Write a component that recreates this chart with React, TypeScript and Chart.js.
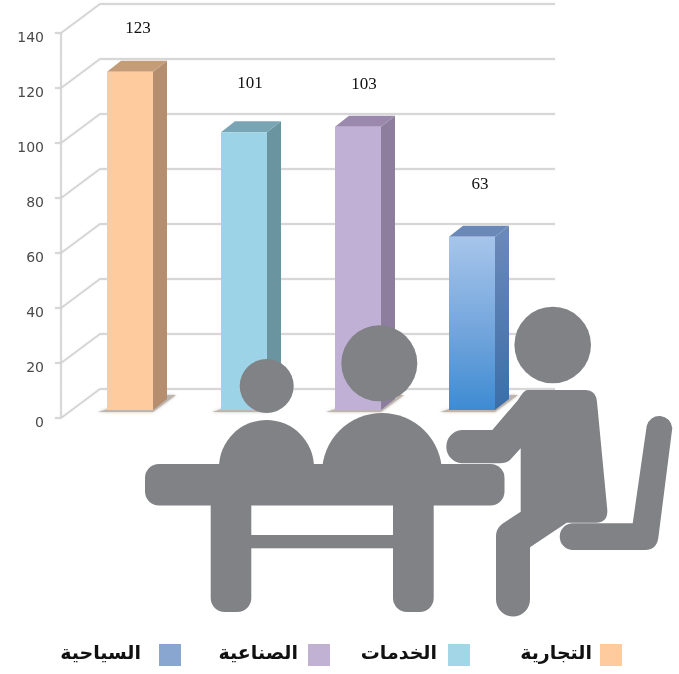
import React, { useEffect, useRef } from "react";
import { Chart, registerables } from "chart.js";

Chart.register(...registerables);

const categories = ["التجارية", "الخدمات", "الصناعية", "السياحية"];
const values = [123, 101, 103, 63];
const yTicksMax = 140;
const yTickStep = 20;

const frontColors = ["#FDCB9E", "#9DD3E6", "#C0B0D5", "#A7C5EB"];
const sideColors = ["#B48E6E", "#6A949F", "#8C7E9C", "#5F84B6"];
const capColors = ["#C49C78", "#78A4B4", "#9A89AC", "#6A88B8"];
const swatchColors = ["#FDCB9E", "#A3D6E7", "#C1B1D3", "#88A6CF"];

const labelLift = [43, 49, 42, 52];
const labelShift = [8, 6, 6, 8];
const swatchLeft = [600, 448, 308, 159];
const legendGap = [8, 11, 10, 18];
const DEPTH_X = 14;
const DEPTH_Y = 11;
const WALL_X0 = 61;
const WALL_X1 = 100;
const WALL_X2 = 555;
const FRONT_DY = 8;
const BACK_DY = -21;

const poly = (ctx: any, pts: number[][]) => {
  ctx.beginPath();
  pts.forEach(([x, y], i) => (i ? ctx.lineTo(x, y) : ctx.moveTo(x, y)));
  ctx.closePath();
};

const backdrop = {
  id: "backdrop",
  beforeDatasetsDraw(chart: any) {
    const { ctx, scales } = chart;
    const y = scales.y;
    ctx.save();
    ctx.strokeStyle = "#D2D2D2";
    ctx.lineWidth = 1.4;
    ctx.shadowColor = "rgba(190,190,190,0.6)";
    ctx.shadowBlur = 1.5;
    ctx.beginPath();
    ctx.moveTo(WALL_X0, y.getPixelForValue(yTicksMax) + FRONT_DY);
    ctx.lineTo(WALL_X0, y.getPixelForValue(0) + FRONT_DY);
    for (let v = 0; v <= yTicksMax; v += yTickStep) {
      const p = y.getPixelForValue(v);
      ctx.moveTo(WALL_X0 - 6, p + FRONT_DY);
      ctx.lineTo(WALL_X0, p + FRONT_DY);
      ctx.lineTo(WALL_X1, p + BACK_DY);
      ctx.lineTo(WALL_X2, p + BACK_DY);
    }
    ctx.stroke();
    ctx.restore();

    const bars = chart.getDatasetMeta(0).data;
    bars.forEach((bar: any, i: number) => {
      const l = bar.x - bar.width / 2;
      const r = bar.x + bar.width / 2;
      const t = bar.y;
      const b = bar.base;
      ctx.save();
      ctx.shadowColor = "rgba(170,160,150,0.7)";
      ctx.shadowBlur = 3;
      ctx.fillStyle = "#BDB5AE";
      poly(ctx, [
        [l - 9, b + 2],
        [r, b + 2],
        [r + 23, b - 15],
        [r, b - 15],
      ]);
      ctx.fill();
      ctx.restore();

      let side: any = sideColors[i];
      if (i === 3) {
        side = ctx.createLinearGradient(0, t, 0, b);
        side.addColorStop(0, "#6A88B8");
        side.addColorStop(1, "#3B6EA8");
      }
      ctx.fillStyle = side;
      poly(ctx, [
        [r, t],
        [r + DEPTH_X, t - DEPTH_Y],
        [r + DEPTH_X, b - DEPTH_Y],
        [r, b],
      ]);
      ctx.fill();
      ctx.fillStyle = capColors[i];
      poly(ctx, [
        [l, t],
        [l + DEPTH_X, t - DEPTH_Y],
        [r + DEPTH_X, t - DEPTH_Y],
        [r, t],
      ]);
      ctx.fill();
    });
  },
};

const annotations = {
  id: "annotations",
  afterDraw(chart: any) {
    const { ctx } = chart;
    const bars = chart.getDatasetMeta(0).data;
    ctx.save();
    ctx.fillStyle = "#111";
    ctx.font = '17px "Liberation Serif"';
    ctx.textAlign = "center";
    ctx.textBaseline = "middle";
    bars.forEach((bar: any, i: number) => {
      ctx.fillText(String(values[i]), bar.x + labelShift[i], bar.y - labelLift[i]);
    });

    categories.forEach((name, i) => {
      ctx.fillStyle = swatchColors[i];
      ctx.fillRect(swatchLeft[i], 644, 22, 22);
      ctx.fillStyle = "#111";
      ctx.font = 'bold 19px "DejaVu Sans"';
      ctx.textAlign = "right";
      ctx.direction = "rtl";
      ctx.fillText(name, swatchLeft[i] - legendGap[i], 654);
    });
    ctx.restore();
  },
};

const People = () => (
  <svg
    width={679}
    height={674}
    viewBox="0 0 679 674"
    style={{ position: "absolute", left: 0, top: 0, pointerEvents: "none" }}
  >
    <g fill="#808285">
      <circle cx={266.7} cy={386} r={27} />
      <circle cx={379.3} cy={363.3} r={38} />
      <circle cx={552.7} cy={345} r={38.3} />
      <path d="M219 467.5 A47.5 47.5 0 0 1 314 467.5 Z" />
      <path d="M322 473 A60 60 0 0 1 442 473 Z" />
      <rect x={145} y={464} width={359.5} height={41.5} rx={14} />
      <rect x={210.7} y={480} width={40.6} height={132} rx={14} />
      <rect x={393} y={480} width={40.7} height={132} rx={14} />
      <rect x={250} y={535} width={145} height={13.3} />
      <path d="M527 390 L585 390 Q596 390 597 402 L607.3 510 Q608 522.7 596 522.7 L566.7 522.7 L530 547.3 L530 599.5 A17 17 0 0 1 496 599.5 L496 536 Q496 529 502 524 L520.7 511.7 L520.7 448.3 L510 460 Q506 463.3 500 463.3 L461.7 463.3 A16.7 16.7 0 0 1 461.7 430 L492.3 430 L518 400 Q524 390 527 390 Z" />
      <path d="M572 523.3 L632.7 523.3 L646.7 426 A13 13 0 0 1 672.3 428 L658.3 538 Q656.5 550 645 550 L572 550 A13.4 13.4 0 0 1 572 523.3 Z" />
    </g>
  </svg>
);

export default function App() {
  const ref = useRef<HTMLCanvasElement>(null);
  useEffect(() => {
    const chart = new Chart(ref.current as HTMLCanvasElement, {
      type: "bar",
      data: {
        labels: categories,
        datasets: [
          {
            data: values,
            borderWidth: 0,
            backgroundColor: (c: any) => {
              if (c.dataIndex !== 3 || !c.chart.chartArea) return frontColors[c.dataIndex];
              const el = c.chart.getDatasetMeta(0).data[3];
              const top = c.chart.scales.y.getPixelForValue(values[3]);
              const bottom = c.chart.scales.y.getPixelForValue(0);
              const g = c.chart.ctx.createLinearGradient(0, top, 0, bottom);
              g.addColorStop(0, "#A7C5EB");
              g.addColorStop(0.55, "#72A5DC");
              g.addColorStop(1, "#3E8BD3");
              return el ? g : frontColors[3];
            },
            barPercentage: 46 / 114,
            categoryPercentage: 1,
          },
        ],
      },
      options: {
        responsive: false,
        animation: false,
        layout: { padding: { top: 25, bottom: 264, left: 0, right: 150 } },
        plugins: { legend: { display: false }, tooltip: { enabled: false } },
        scales: {
          x: { display: false },
          y: {
            min: 0,
            max: yTicksMax,
            border: { display: false },
            grid: { display: false },
            afterFit: (s: any) => {
              s.width = 73;
              s.paddingTop = 0;
              s.paddingBottom = 0;
            },
            ticks: {
              stepSize: yTickStep,
              padding: 21,
              labelOffset: 13,
              color: "#4a4a4a",
              font: { family: "DejaVu Sans", size: 14 },
            },
          },
        },
      },
      plugins: [backdrop, annotations],
    } as any);
    return () => chart.destroy();
  }, []);
  return (
    <div style={{ position: "absolute", left: 0, top: 0, width: 679, height: 674, background: "#fff", overflow: "hidden" }}>
      <canvas ref={ref} width={679} height={674} style={{ display: "block" }} />
      <People />
    </div>
  );
}
